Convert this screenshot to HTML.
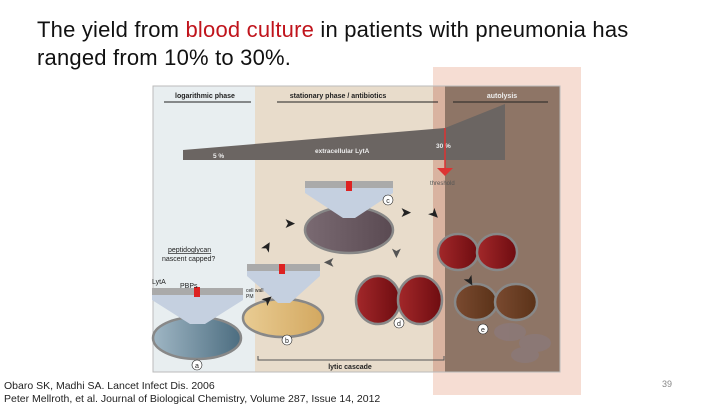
<!DOCTYPE html>
<html><head><style>
body{margin:0;width:720px;height:405px;background:#fff;position:relative;overflow:hidden;font-family:"Liberation Sans",sans-serif}
.t{position:absolute;left:37px;font-size:22px;letter-spacing:0.2px;color:#111;white-space:nowrap}
.ref{position:absolute;left:4px;font-size:10.5px;color:#222;white-space:nowrap}
</style></head><body>
<div class="t" style="top:17px">The yield from <span style="color:#c0141c">blood culture</span> in patients with pneumonia has</div>
<div class="t" style="top:45px">ranged from 10% to 30%.</div>
<div style="position:absolute;left:433px;top:67px;width:148px;height:328px;background:#f6ddd3"></div>
<svg style="position:absolute;left:0;top:0" width="720" height="405" font-family="Liberation Sans, sans-serif">
<rect x="153" y="86" width="102" height="286" fill="#e8eef0"/>
<rect x="255" y="86" width="190" height="286" fill="#e8dccb"/>
<rect x="445" y="86" width="115" height="286" fill="#8e7566"/>
<rect x="433" y="86" width="12" height="286" fill="#d9b3a0"/>
<rect x="153" y="86" width="407" height="286" fill="none" stroke="#bbb" stroke-width="1"/>
<g font-size="7" font-weight="bold" fill="#222" text-anchor="middle">
<text x="205" y="98">logarithmic phase</text><text x="338" y="98">stationary phase / antibiotics</text><text x="502" y="98" fill="#eee">autolysis</text>
</g>
<g stroke="#222" stroke-width="1"><line x1="164" y1="102" x2="251" y2="102"/><line x1="277" y1="102" x2="438" y2="102"/><line x1="453" y1="102" x2="548" y2="102"/></g>
<polygon points="183,150 445,128 505,104 505,160 183,160" fill="#6b6562"/>
<g font-size="6.5" font-weight="bold" fill="#eee"><text x="213" y="158">5 %</text><text x="315" y="153">extracellular LytA</text><text x="436" y="148">30 %</text></g>
<line x1="445" y1="128" x2="445" y2="170" stroke="#d33" stroke-width="1.5"/><polygon points="437,168 453,168 445,176" fill="#d33"/>
<text x="430" y="185" font-size="6" fill="#555">threshold</text>
<defs>
<linearGradient id="ga"><stop offset="0" stop-color="#9fb6c4"/><stop offset="1" stop-color="#4c6d80"/></linearGradient>
<linearGradient id="gb"><stop offset="0" stop-color="#e9cc93"/><stop offset="1" stop-color="#d3a860"/></linearGradient>
<linearGradient id="gc"><stop offset="0" stop-color="#7a6a72"/><stop offset="1" stop-color="#5a4a52"/></linearGradient>
<linearGradient id="gd"><stop offset="0" stop-color="#a3282a"/><stop offset="1" stop-color="#6e0c10"/></linearGradient>
<linearGradient id="ge"><stop offset="0" stop-color="#7a4a30"/><stop offset="1" stop-color="#5a3218"/></linearGradient>
</defs>
<g stroke="#888" stroke-width="2.5">
<ellipse cx="197" cy="338" rx="44" ry="21" fill="url(#ga)"/>
<ellipse cx="283" cy="318" rx="40" ry="19" fill="url(#gb)"/>
<ellipse cx="349" cy="230" rx="44" ry="23" fill="url(#gc)"/>
<ellipse cx="378" cy="300" rx="22" ry="24" fill="url(#gd)"/><ellipse cx="420" cy="300" rx="22" ry="24" fill="url(#gd)"/>
<ellipse cx="458" cy="252" rx="20" ry="18" fill="url(#gd)"/><ellipse cx="497" cy="252" rx="20" ry="18" fill="url(#gd)"/>
<ellipse cx="476" cy="302" rx="21" ry="18" fill="url(#ge)"/><ellipse cx="516" cy="302" rx="21" ry="18" fill="url(#ge)"/>
</g>
<g fill="#8a7a80" opacity="0.6"><ellipse cx="510" cy="332" rx="16" ry="9"/><ellipse cx="535" cy="343" rx="16" ry="9"/><ellipse cx="525" cy="355" rx="14" ry="8"/></g>
<polygon points="152,294 243,294 243,300 205,324 190,324 152,300" fill="#c5d0e0"/><rect x="152" y="288" width="91" height="7" fill="#aaa"/>
<polygon points="247,270 320,270 320,276 290,303 278,303 247,276" fill="#c5d0e0"/><rect x="247" y="264" width="73" height="7" fill="#aaa"/>
<polygon points="305,187 393,187 393,193 355,218 343,218 305,193" fill="#c5d0e0"/><rect x="305" y="181" width="88" height="7" fill="#aaa"/>
<g fill="#d22"><rect x="194" y="287" width="6" height="10"/><rect x="279" y="264" width="6" height="10"/><rect x="346" y="181" width="6" height="10"/></g>
<g fill="#222" font-size="14">
<text x="266" y="307" transform="rotate(-40 266 307)">➤</text>
<text x="268" y="254" transform="rotate(-60 268 254)">➤</text>
<text x="284" y="228">➤</text><text x="400" y="217">➤</text>
<text x="427" y="213" transform="rotate(45 427 213)">➤</text>
<text x="463" y="278" transform="rotate(60 463 278)">➤</text>
</g>
<g fill="#555" font-size="14"><text x="335" y="258" transform="rotate(180 335 258)">➤</text><text x="392" y="247" transform="rotate(90 392 247)">➤</text></g>
<g font-size="7" fill="#222">
<text x="168" y="252" text-decoration="underline">peptidoglycan</text>
<text x="162" y="261">nascent  capped?</text><text x="152" y="284">LytA</text><text x="180" y="288">PBPs</text>
<text x="246" y="292" font-size="5">cell wall</text><text x="246" y="298" font-size="5">PM</text>
</g>
<g font-size="7" fill="#222" text-anchor="middle" stroke="#222" stroke-width="0.6">
<circle cx="197" cy="365" r="5" fill="#fff"/><circle cx="287" cy="340" r="5" fill="#fff"/><circle cx="388" cy="200" r="5" fill="#fff"/><circle cx="399" cy="323" r="5" fill="#fff"/><circle cx="483" cy="329" r="5" fill="#fff"/>
</g>
<g font-size="7" fill="#222" text-anchor="middle"><text x="197" y="368">a</text><text x="287" y="343">b</text><text x="388" y="203">c</text><text x="399" y="326">d</text><text x="483" y="332">e</text></g>
<path d="M258,356 V360 H444 V356" fill="none" stroke="#555"/>
<text x="350" y="369" font-size="7" font-weight="bold" fill="#222" text-anchor="middle">lytic cascade</text>
</svg>
<div class="ref" style="top:380px">Obaro SK, Madhi SA. Lancet Infect Dis. 2006</div>
<div class="ref" style="top:393px">Peter Mellroth, et al. Journal of Biological Chemistry, Volume 287, Issue 14, 2012</div>
<div style="position:absolute;left:662px;top:379px;font-size:9px;color:#888">39</div>
</body></html>
